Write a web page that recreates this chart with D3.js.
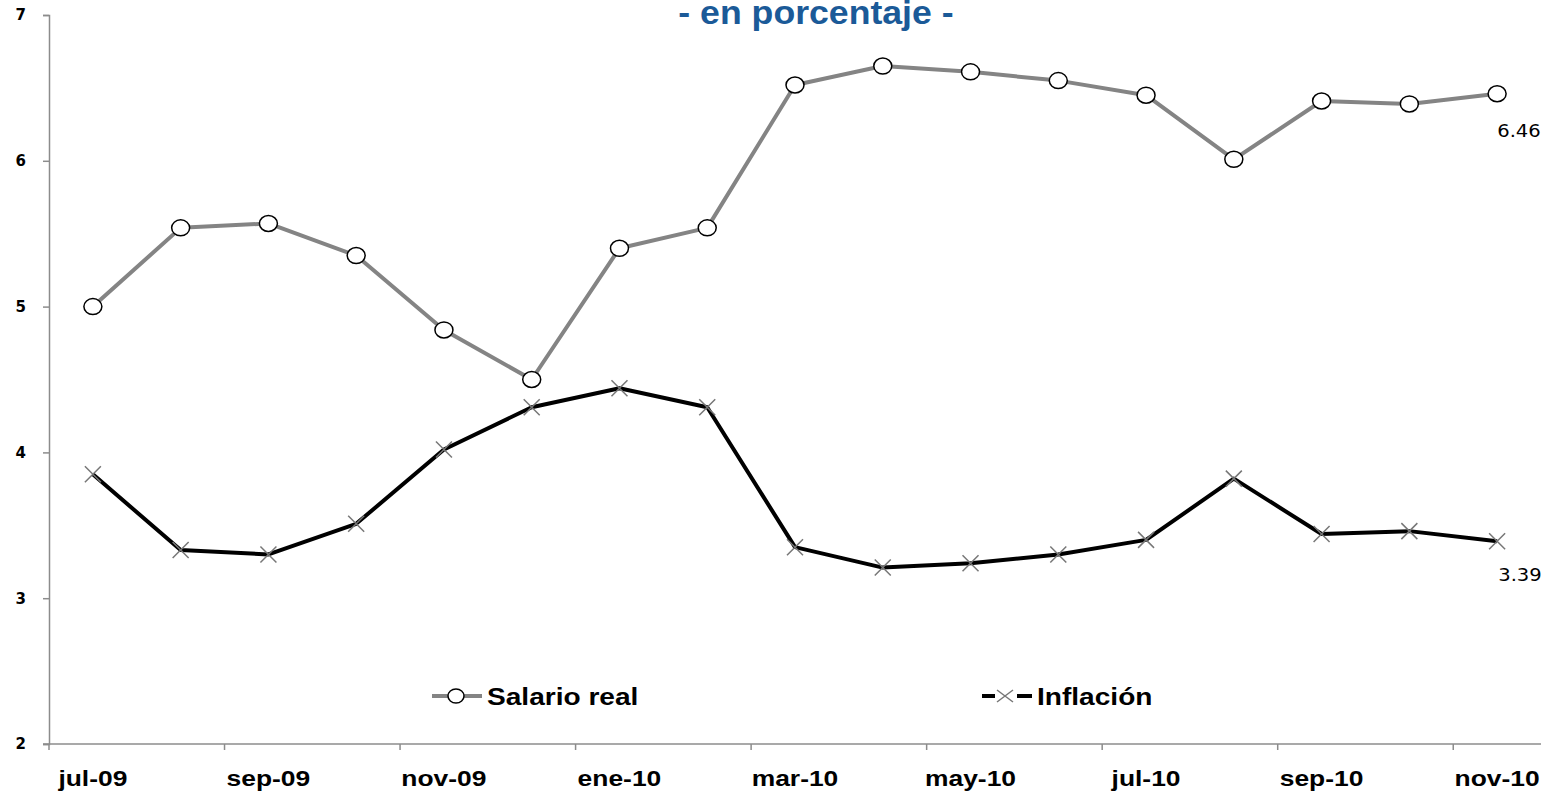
<!DOCTYPE html>
<html>
<head>
<meta charset="utf-8">
<script src="https://cdn.jsdelivr.net/npm/d3@7"></script>
<style>
  body { margin: 0; background: #fff; }
  svg { display: block; }
</style>
</head>
<body>
<svg id="mainsvg" width="1560" height="792"></svg>
<script>
const meses = ['jul-09','ago-09','sep-09','oct-09','nov-09','dic-09','ene-10','feb-10',
               'mar-10','abr-10','may-10','jun-10','jul-10','ago-10','sep-10','oct-10','nov-10'];
const salarioReal = [5.00, 5.54, 5.57, 5.35, 4.84, 4.50, 5.40, 5.54,
                     6.52, 6.65, 6.61, 6.55, 6.45, 6.01, 6.41, 6.39, 6.46];
const inflacion = [3.85, 3.33, 3.30, 3.51, 4.02, 4.31, 4.44, 4.31,
                   3.35, 3.21, 3.24, 3.30, 3.40, 3.82, 3.44, 3.46, 3.39];
const yTicks = [2, 3, 4, 5, 6, 7];

var svg = d3.select('#mainsvg'),
    margin = {top: 15, right: 19, bottom: 48, left: 49},
    width = svg.attr('width') - margin.left - margin.right,
    height = svg.attr('height') - margin.top - margin.bottom;

var g = svg.append('g')
    .attr('transform', 'translate(' + margin.left + ',' + margin.top + ')');

var xScale = d3.scaleBand().domain(meses).range([0, width]);
var yScale = d3.scaleLinear().domain([2, 7]).range([height, 0]);
var cx = d => xScale(d) + xScale.bandwidth() / 2;

// the original image is a bit stretched sideways
function ancho(sel, f) {
    sel.each(function () {
        var w = this.getComputedTextLength();
        d3.select(this).attr('textLength', w * f).attr('lengthAdjust', 'spacingAndGlyphs');
    });
}

// title (cut at the top in the original)
svg.append('text')
    .attr('x', 816).attr('y', 24)
    .attr('text-anchor', 'middle')
    .style('font-family', 'Liberation Sans, Arial, sans-serif')
    .style('font-weight', 'bold')
    .style('font-size', '33px')
    .style('fill', '#1B5A98')
    .text('- en porcentaje -')
    .call(ancho, 1.08);

// y axis
var yAxis = g.append('g')
    .call(d3.axisLeft(yScale).tickValues(yTicks).tickSize(6).tickFormat(d3.format('d')));
yAxis.select('.domain').attr('stroke', '#8c8c8c').attr('stroke-width', 1.5);
yAxis.selectAll('.tick line').attr('stroke', '#8c8c8c').attr('stroke-width', 1.5);
yAxis.selectAll('.tick text')
    .attr('x', -23)
    .style('font-family', 'DejaVu Sans, sans-serif')
    .style('font-weight', 'bold')
    .style('font-size', '15px')
    .style('fill', '#000');

// x axis, ticks every two months on the boundaries
var xAxisG = g.append('g').attr('transform', 'translate(0,' + height + ')');
xAxisG.append('line')
    .attr('x1', -6).attr('x2', width)
    .attr('stroke', '#8c8c8c').attr('stroke-width', 1.5);
xAxisG.selectAll('.xt')
    .data(meses.filter((d, i) => i % 2 == 0))
    .enter().append('line')
    .attr('x1', d => xScale(d)).attr('x2', d => xScale(d))
    .attr('y1', 0).attr('y2', 6)
    .attr('stroke', '#8c8c8c').attr('stroke-width', 1.5);
xAxisG.selectAll('.xl')
    .data(meses.filter((d, i) => i % 2 == 0))
    .enter().append('text')
    .attr('x', d => cx(d))
    .attr('y', 42)
    .attr('text-anchor', 'middle')
    .style('font-family', 'Liberation Sans, Arial, sans-serif')
    .style('font-weight', 'bold')
    .style('font-size', '22px')
    .text(d => d)
    .call(ancho, 1.2);

var line = d3.line()
    .x((d, i) => cx(meses[i]))
    .y(d => yScale(d));

// Salario real
g.append('path')
    .datum(salarioReal)
    .attr('d', line)
    .attr('fill', 'none')
    .attr('stroke', '#848484')
    .attr('stroke-width', 4)
    .attr('stroke-linejoin', 'round');

g.append('g').selectAll('ellipse')
    .data(salarioReal)
    .enter().append('ellipse')
    .attr('cx', (d, i) => cx(meses[i]))
    .attr('cy', d => yScale(d))
    .attr('rx', 9).attr('ry', 8)
    .attr('fill', '#fff')
    .attr('stroke', '#000')
    .attr('stroke-width', 1.5);

// Inflación
g.append('path')
    .datum(inflacion)
    .attr('d', line)
    .attr('fill', 'none')
    .attr('stroke', '#000')
    .attr('stroke-width', 4)
    .attr('stroke-linejoin', 'round');

var cruz = 'M-8,-8L8,8M-8,8L8,-8';
g.append('g').selectAll('path')
    .data(inflacion)
    .enter().append('path')
    .attr('d', cruz)
    .attr('transform', (d, i) => 'translate(' + cx(meses[i]) + ',' + yScale(d) + ')')
    .attr('fill', 'none')
    .attr('stroke', '#777')
    .attr('stroke-width', 1.5);

// Etiquetas del último valor
var last = meses.length - 1;
[[salarioReal[last], 1519 - margin.left, yScale(salarioReal[last]) + 43],
 [inflacion[last], 1520 - margin.left, yScale(inflacion[last]) + 40]].forEach(function (e) {
    g.append('text')
        .attr('x', e[1]).attr('y', e[2])
        .attr('text-anchor', 'middle')
        .style('font-family', 'DejaVu Sans, sans-serif')
        .style('font-size', '17px')
        .text(e[0].toFixed(2))
        .call(ancho, 1.15);
});

// Leyenda
var leyenda = [
    {name: 'Salario real', x: 432, color: '#848484', marker: 'circle'},
    {name: 'Inflación', x: 982, color: '#000', marker: 'cross'}
];
var lg = svg.append('g').selectAll('g')
    .data(leyenda)
    .enter().append('g')
    .attr('transform', d => 'translate(' + d.x + ',696)');
lg.append('line')
    .attr('x1', 0).attr('x2', 50)
    .attr('stroke', d => d.color)
    .attr('stroke-width', 4);
lg.each(function (d) {
    var s = d3.select(this);
    if (d.marker == 'circle') {
        s.append('ellipse').attr('cx', 24).attr('rx', 8).attr('ry', 7)
            .attr('fill', '#fff').attr('stroke', '#000').attr('stroke-width', 1.5);
    } else {
        s.append('rect').attr('x', 13).attr('y', -6).attr('width', 22).attr('height', 12).attr('fill', '#fff');
        s.append('path').attr('d', 'M-8,-6L8,6M-8,6L8,-6').attr('transform', 'translate(23,0)')
            .attr('fill', 'none').attr('stroke', '#777').attr('stroke-width', 1.5);
    }
});
lg.append('text')
    .attr('x', 55).attr('y', 9)
    .style('font-family', 'Liberation Sans, Arial, sans-serif')
    .style('font-weight', 'bold')
    .style('font-size', '24px')
    .text(d => d.name)
    .call(ancho, 1.17);
</script>
</body>
</html>
